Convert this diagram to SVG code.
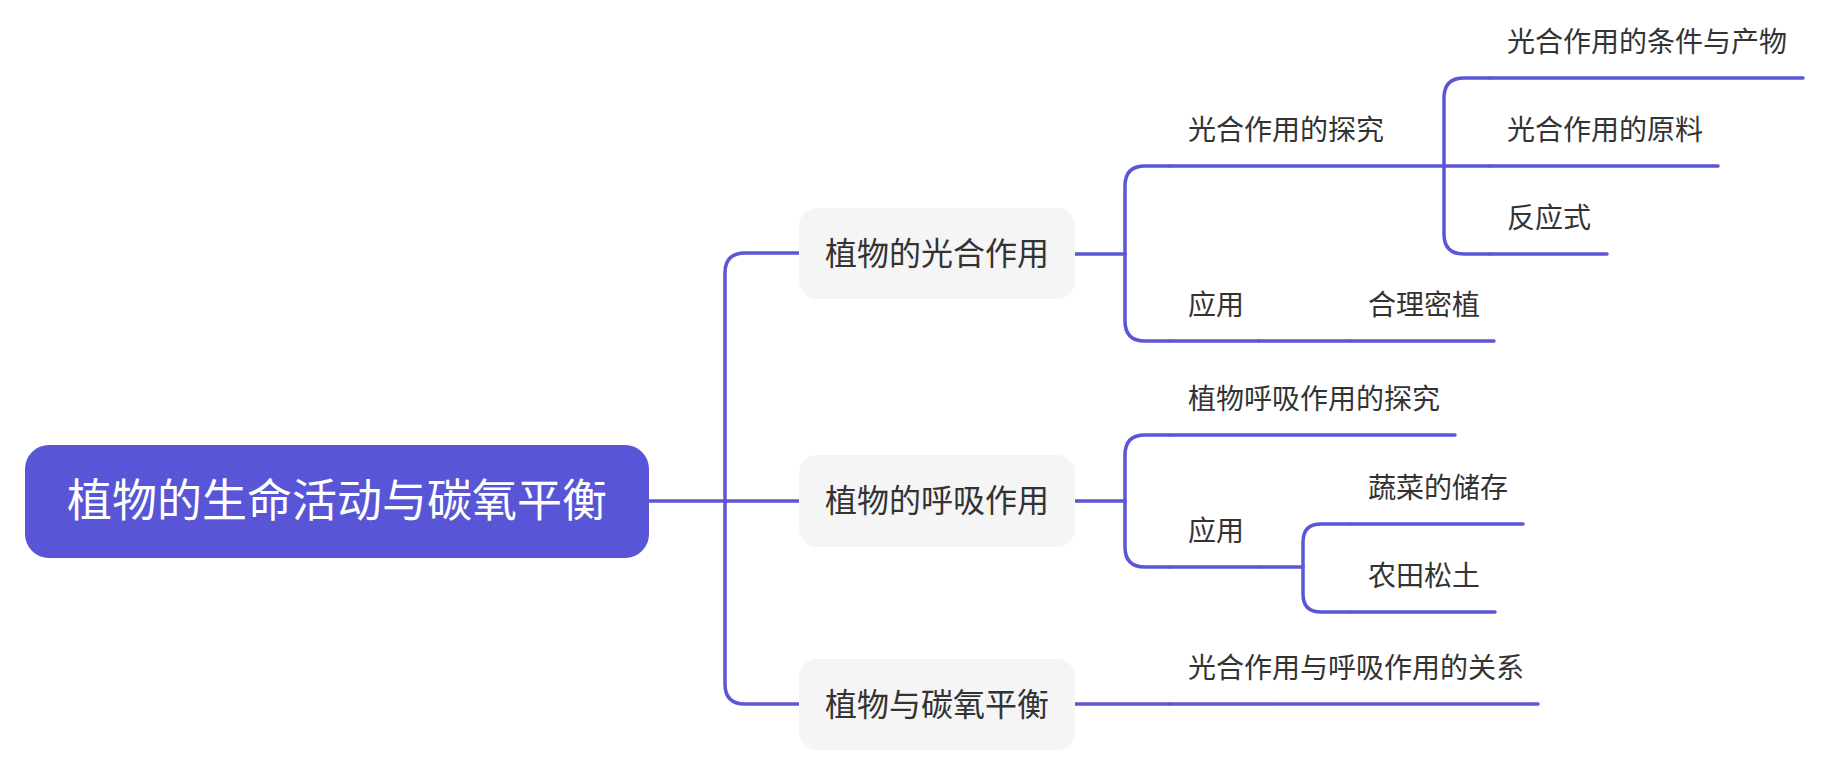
<svg xmlns="http://www.w3.org/2000/svg" width="1824" height="774" viewBox="0 0 1824 774">
<style>
.ln{fill:none;stroke:#5b56d6;stroke-width:3.5;stroke-linecap:round;stroke-linejoin:round}
.t{font-family:"Noto Sans CJK SC","Noto Sans",sans-serif;fill:#333333}
.t2{font-size:28px}
.t1{font-size:32px}
.box{fill:#f5f5f6}
</style>
<rect width="1824" height="774" fill="#ffffff"/>
<g id="connectors">
<path class="ln" d="M649,501 H799"/>
<path class="ln" d="M725,501 V273 Q725,253 745,253 H799"/>
<path class="ln" d="M725,501 V684 Q725,704 745,704 H799"/>
<path class="ln" d="M1075,254 H1125"/>
<path class="ln" d="M1125,254 V186 Q1125,166 1145,166 H1170"/>
<path class="ln" d="M1125,254 V321 Q1125,341 1145,341 H1170"/>
<path class="ln" d="M1444,166 V98 Q1444,78 1464,78 H1490"/>
<path class="ln" d="M1444,166 H1490"/>
<path class="ln" d="M1444,166 V234 Q1444,254 1464,254 H1490"/>
<path class="ln" d="M1259,341 H1350"/>
<path class="ln" d="M1075,501 H1125"/>
<path class="ln" d="M1125,501 V455 Q1125,435 1145,435 H1170"/>
<path class="ln" d="M1125,501 V547 Q1125,567 1145,567 H1170"/>
<path class="ln" d="M1259,567 H1303 V542 Q1303,524 1321,524 H1350"/>
<path class="ln" d="M1303,567 V594 Q1303,612 1321,612 H1350"/>
<path class="ln" d="M1075,704 H1170"/>
</g>
<g id="root">
<rect x="25" y="445" width="624" height="113" rx="24" fill="#5856d6"/>
<text x="337" y="517" font-size="45" text-anchor="middle" style="font-family:'Noto Sans CJK SC','Noto Sans',sans-serif" fill="#ffffff">植物的生命活动与碳氧平衡</text>
</g>
<g id="n1">
<rect class="box" x="799" y="208" width="276" height="91" rx="18"/>
<text class="t t1" x="937" y="265" text-anchor="middle">植物的光合作用</text>
</g>
<g id="n2">
<rect class="box" x="799" y="455" width="276" height="92" rx="18"/>
<text class="t t1" x="937" y="512" text-anchor="middle">植物的呼吸作用</text>
</g>
<g id="n3">
<rect class="box" x="799" y="659" width="276" height="91" rx="18"/>
<text class="t t1" x="937" y="716" text-anchor="middle">植物与碳氧平衡</text>
</g>
<g id="n1a">
<path class="ln" d="M1170,166 H1444"/>
<text class="t t2" x="1188" y="140">光合作用的探究</text>
</g>
<g id="n1a1">
<path class="ln" d="M1490,78 H1803"/>
<text class="t t2" x="1507" y="52">光合作用的条件与产物</text>
</g>
<g id="n1a2">
<path class="ln" d="M1490,166 H1718"/>
<text class="t t2" x="1507" y="140">光合作用的原料</text>
</g>
<g id="n1a3">
<path class="ln" d="M1490,254 H1607"/>
<text class="t t2" x="1507" y="228">反应式</text>
</g>
<g id="n1b">
<path class="ln" d="M1170,341 H1259"/>
<text class="t t2" x="1188" y="315">应用</text>
</g>
<g id="n1b1">
<path class="ln" d="M1350,341 H1494"/>
<text class="t t2" x="1368" y="315">合理密植</text>
</g>
<g id="n2a">
<path class="ln" d="M1170,435 H1455"/>
<text class="t t2" x="1188" y="409">植物呼吸作用的探究</text>
</g>
<g id="n2b">
<path class="ln" d="M1170,567 H1259"/>
<text class="t t2" x="1188" y="541">应用</text>
</g>
<g id="n2b1">
<path class="ln" d="M1350,524 H1523"/>
<text class="t t2" x="1368" y="498">蔬菜的储存</text>
</g>
<g id="n2b2">
<path class="ln" d="M1350,612 H1495"/>
<text class="t t2" x="1368" y="586">农田松土</text>
</g>
<g id="n3a">
<path class="ln" d="M1170,704 H1538"/>
<text class="t t2" x="1188" y="678">光合作用与呼吸作用的关系</text>
</g>
</svg>
